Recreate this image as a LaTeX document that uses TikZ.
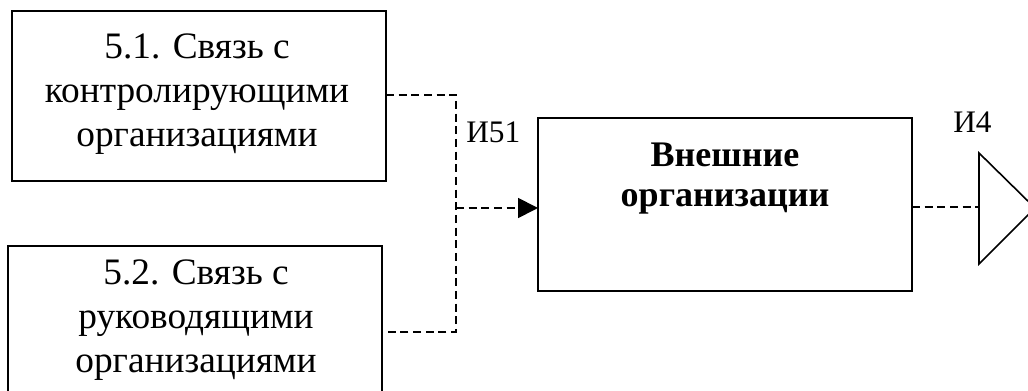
\documentclass[tikz,border=0pt]{standalone}
\usepackage{fontspec}
\setmainfont{Liberation Serif}
\usetikzlibrary{arrows.meta}
\begin{document}
\begin{tikzpicture}[x=0.75pt,y=-0.75pt,
  block/.style={draw,line width=1.5pt,inner sep=0pt},
  boxtext/.style={align=center,font=\fontsize{28}{33}\selectfont,inner sep=0pt},
  boldtext/.style={align=center,font=\fontsize{27}{30}\selectfont\bfseries,inner sep=0pt},
  lbl/.style={font=\fontsize{23.5}{26}\selectfont,inner sep=0pt},
  flow/.style={dash pattern=on 6pt off 3.5pt,line width=1.35pt},
  arr/.style={-{Triangle[length=15pt,width=15pt]}}]
\useasboundingbox (0,0) rectangle (1028,391);
% source blocks
\draw[block] (12,11) rectangle (386,181);
\node[boxtext] (t1) at (197,94.5) {5.1. Связь с\\контролирующими\\организациями};
\coordinate (s1) at (386,95);
\draw[block] (8,246) rectangle (382,420);
\node[boxtext] (t2) at (196,320.5) {5.2. Связь с\\руководящими\\организациями};
\coordinate (s2) at (382,332);
% central block
\draw[block] (538,118) rectangle (912,291);
\node[boldtext] (t3) at (725,179) {Внешние\\организации};
\coordinate (m-in) at (538,208);
\coordinate (m-out) at (912,207);
% junction of the two inputs
\coordinate (j) at (456,208);
\coordinate (jt) at (456,95);
\coordinate (jb) at (456,332);
\draw[flow] (s1) -- (jt) -- (jb) -- (s2);
\draw[flow,arr] (j) -- (m-in);
% off-page connector
\coordinate (o) at (979,207);
\draw[line width=1.2pt] (979,153) -- (979,264) -- (1035,208) -- cycle;
\draw[flow] (m-out) -- (o);
\draw[line width=2.2pt] (979,200) -- (979,215);
% labels
\node[lbl,anchor=base west] (l1) at (466,143) {И51};
\node[lbl,anchor=base west] (l2) at (953,133) {И4};
\end{tikzpicture}
\end{document}
